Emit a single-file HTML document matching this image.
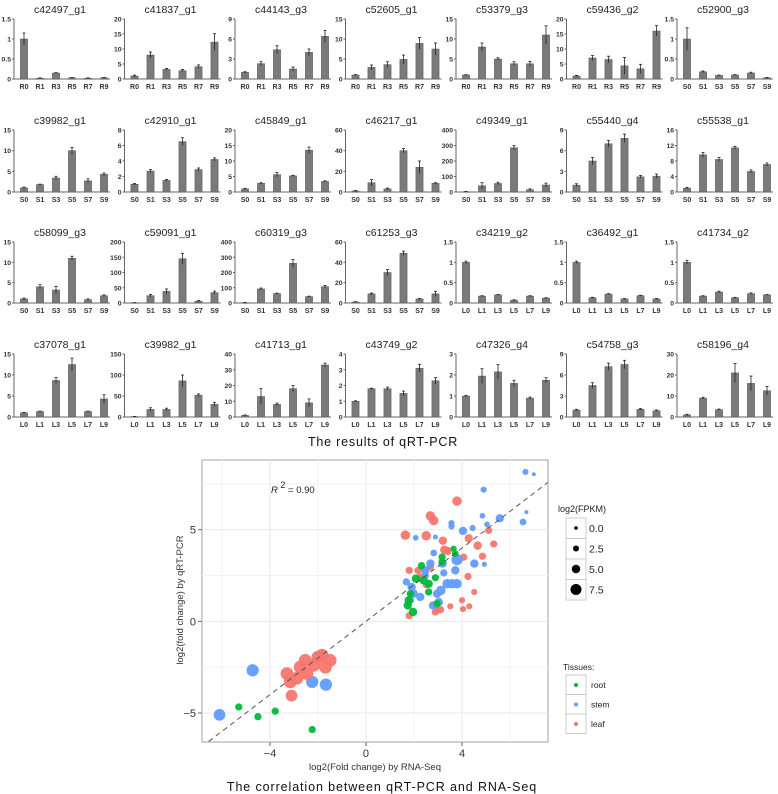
<!DOCTYPE html>
<html><head><meta charset="utf-8"><style>
html,body{margin:0;padding:0;background:#fff;}
svg{display:block;font-family:"Liberation Sans",sans-serif;}
</style></head><body>
<svg id="fig" width="778" height="794" viewBox="0 0 778 794" xmlns="http://www.w3.org/2000/svg">
<g id="bars"></g>
<text x="383" y="446" text-anchor="middle" font-size="12.5" letter-spacing="0.8" fill="#111">The results of qRT-PCR</text>
<g id="scatter"></g>
<text x="382" y="791" text-anchor="middle" font-size="12.5" letter-spacing="0.9" fill="#111">The  correlation between qRT-PCR and RNA-Seq</text>
</svg>
<script>
const NS='http://www.w3.org/2000/svg';
function mk(tag,attrs,parent,txt){const e=document.createElementNS(NS,tag);for(const k in attrs)e.setAttribute(k,attrs[k]);if(txt!==undefined)e.textContent=txt;parent.appendChild(e);return e;}

// ---------- bar chart data ----------
const geneNames=[
 ['c42497_g1','c41837_g1','c44143_g3','c52605_g1','c53379_g3','c59436_g2','c52900_g3'],
 ['c39982_g1','c42910_g1','c45849_g1','c46217_g1','c49349_g1','c55440_g4','c55538_g1'],
 ['c58099_g3','c59091_g1','c60319_g3','c61253_g3','c34219_g2','c36492_g1','c41734_g2'],
 ['c37078_g1','c39982_g1','c41713_g1','c43749_g2','c47326_g4','c54758_g3','c58196_g4']];
const axisMax=[[1.5,20,9,15,15,20,1.5],[15,8,20,60,400,9,16],[15,200,400,60,1.5,1.5,1.5],[15,150,40,4,3,9,30]];
const axisStep=[[0.5,5,3,5,5,5,0.5],[5,2,5,20,100,3,4],[5,50,100,20,0.5,0.5,0.5],[5,50,10,1,1,3,10]];
const catPrefix=[['R','R','R','R','R','R','S'],['S','S','S','S','S','S','S'],['S','S','S','S','L','L','L'],['L','L','L','L','L','L','L']];
const catStages=['0','1','3','5','7','9'];
const barValues=[
 [[1,0.02,0.15,0.03,0.02,0.03],[1,8,3.2,2.8,4.1,12.3],[1,2.3,4.4,1.5,4.0,6.4],[1,2.9,3.6,4.9,8.9,7.5],[1,8,5,3.8,3.8,11],[1,7,6.5,4.4,3.4,16],[1,0.18,0.09,0.1,0.15,0.03]],
 [[1,1.8,3.4,10,2.7,4.3],[1,2.7,1.5,6.5,2.9,4.2],[1,2.8,5.6,5.2,13.5,3.4],[1,9,3,40,24,8.5],[2,40,55,285,15,45],[1,4.5,7,7.8,2.2,2.3],[1,9.6,8.4,11.4,5.3,7.1]],
 [[1,4,3.2,11,0.8,1.8],[1,24,38,145,6,34],[2,92,62,260,42,107],[1,9,30,49,4,9],[1,0.17,0.2,0.07,0.17,0.12],[1,0.13,0.22,0.1,0.18,0.1],[1,0.17,0.27,0.13,0.23,0.2]],
 [[1,1.3,8.7,12.5,1.3,4.3],[1,18,18,86,52,30],[1,13,8,18,9,33],[1,1.8,1.8,1.5,3.1,2.3],[1,1.95,2.15,1.6,0.9,1.75],[1,4.5,7.2,7.5,1.1,0.9],[1,9,3.5,21,16,12.5]]];
const barErrors=[
 [[0.15,0.01,0.01,0.01,0.01,0.01],[0.3,1,0.3,0.4,0.6,2.8],[0.1,0.3,0.6,0.3,0.5,0.9],[0.1,0.6,0.7,1.1,1.5,1.5],[0.1,1,0.3,0.5,0.6,2.3],[0.2,0.8,1.1,2.8,1.5,1.8],[0.28,0.02,0.01,0.01,0.02,0.01]],
 [[0.2,0.1,0.4,0.8,0.5,0.3],[0.1,0.2,0.1,0.5,0.2,0.2],[0.2,0.2,0.7,0.2,1,0.2],[0.5,3,0.8,2,6,0.5],[2,20,8,15,5,12],[0.2,0.5,0.5,0.6,0.2,0.3],[0.2,0.6,0.5,0.4,0.4,0.4]],
 [[0.2,0.5,0.9,0.5,0.2,0.2],[0.5,4,8,18,2,5],[2,6,3,25,3,8],[0.3,0.8,3,2,0.5,2.5],[0.03,0.01,0.01,0.01,0.01,0.01],[0.03,0.01,0.01,0.01,0.01,0.01],[0.05,0.01,0.02,0.01,0.02,0.01]],
 [[0.1,0.1,0.7,1.5,0.1,1.0],[0.5,4,3,14,3,5],[0.3,5,0.8,2,2.5,1.2],[0.03,0.03,0.1,0.15,0.25,0.2],[0.03,0.35,0.35,0.15,0.05,0.12],[0.1,0.4,0.5,0.6,0.1,0.1],[0.3,0.4,0.3,4.5,3.5,2]]];

const rowTop=[19,130,242,354], rowZero=[79,192,303,417];
const bars=document.getElementById('bars');
function fmt(v){return (Math.round(v*10)/10).toString();}
for(let r=0;r<4;r++){for(let c=0;c<7;c++){
  const g=mk('g',{},bars);
  
  
  const ax=14+c*110.5, top=rowTop[r], zero=rowZero[r], mx=axisMax[r][c];
  const yS=v=>zero-(v/mx)*(zero-top);
  const xS=i=>ax+10+i*16;
  const t=mk('text',{x:ax+46,y:top-6,'text-anchor':'middle','font-size':'10.5',fill:'#222'},g,geneNames[r][c]);
  
  
  mk('line',{x1:ax,y1:top,x2:ax,y2:zero,stroke:'#666','stroke-width':1},g);
  mk('line',{x1:ax,y1:zero,x2:ax+96,y2:zero,stroke:'#666','stroke-width':1},g);
  const st=axisStep[r][c];
  for(let v=0;v<=mx+1e-9;v+=st){
    const y=yS(v);
    mk('line',{x1:ax-2,y1:y,x2:ax,y2:y,stroke:'#666'},g);
    const tl=mk('text',{x:ax-3,y:y+2.5,'text-anchor':'end','font-size':'6.8','font-weight':'bold',fill:'#333'},g,fmt(v));
    
    
  }
  barValues[r][c].forEach((v,i)=>{
    const x=xS(i), y=yS(v), e=barErrors[r][c][i];
    const b=mk('rect',{x:x-3.6,y:y,width:7.2,height:Math.max(zero-y,0.6),fill:'#7a7a7a',stroke:'#555','stroke-width':0.5},g);
    
    
    const y1=yS(v+e), y2=yS(Math.max(v-e,0));
    mk('line',{x1:x,y1:y1,x2:x,y2:y2,stroke:'#222','stroke-width':0.8},g);
    mk('line',{x1:x-1.5,y1:y1,x2:x+1.5,y2:y1,stroke:'#222','stroke-width':0.8},g);
    const cl=mk('text',{x:x,y:zero+10,'text-anchor':'middle','font-size':'7','font-weight':'bold',fill:'#333'},g,catPrefix[r][c]+catStages[i]);
    
    
  });
}}

// ---------- scatter data ----------
const tissueNames=['root','stem','leaf'];
const tissueColors={root:'#00BA38',stem:'#619CFF',leaf:'#F8766D'};
const ptTissue=['stem','stem','root','root','root','root','stem','stem']
 .concat(Array(12).fill('leaf'),Array(29).fill('leaf'),Array(36).fill('stem'),Array(15).fill('root'));
const ptRnaSeq=[-4.72,-6.1,-5.3,-4.5,-3.78,-2.24,-2.24,-1.67,
 -3.29,-3.15,-3.1,-2.53,-2.46,-1.83,-1.49,-2.74,-2.18,-1.69,-2.88,-2.0,
 3.79,2.68,2.82,1.64,2.51,3.2,3.26,3.4,4.28,4.65,5.32,5.11,4.85,4.07,4.25,4.51,1.8,2.17,2.68,2.51,2.96,3.1,3.51,4.0,4.04,4.3,1.8,2.26,2.89,
 4.9,6.64,6.99,6.68,6.54,5.57,4.85,5.04,4.44,4.04,3.56,3.56,2.07,2.89,2.82,3.79,3.72,4.51,4.93,2.68,3.19,2.47,3.24,1.68,1.9,1.99,2.26,2.96,3.12,3.38,3.58,3.79,2.79,3.03,1.85,2.47,
 3.65,3.72,3.17,2.31,2.08,2.4,2.61,2.61,2.89,1.78,1.74,1.96,2.96,1.85,3.17];
const ptQpcr=[-2.67,-5.1,-4.67,-5.2,-4.9,-5.9,-3.3,-3.45,
 -2.85,-3.3,-4.05,-2.13,-2.85,-1.85,-2.13,-2.5,-2.4,-2.5,-3.1,-1.95,
 6.56,5.75,5.5,4.7,4.67,4.4,3.9,3.84,4.53,4.13,4.22,4.96,3.55,3.5,2.45,1.6,2.78,2.78,2.96,2.0,0.67,0.64,0.82,1.15,0.67,0.82,0.31,2.42,0.51,
 7.18,8.15,8.02,5.96,5.42,5.62,5.76,5.29,5.09,4.93,5.36,5.18,4.56,4.6,3.73,3.36,2.78,3.15,3.11,3.15,3.15,2.78,2.64,2.15,1.87,1.51,1.33,1.51,1.69,2.05,2.05,2.05,0.87,1.05,1.15,2.5,
 3.96,3.69,3.51,3.04,2.33,2.24,2.05,1.6,2.38,1.15,0.87,0.51,0.96,1.51,3.24];
const ptFpkm=[7.5,7,3,3,3,3,7.5,7.5,
 8,8,7,8,8,8,8,8,8,8,8,8,
 5,5,5,5,5,4,4,4,4,4,3,3,3,3,3,2,3,3,3,3,4,3,2,2,2,2,3,3,3,
 2,2,0,0,2.5,4,1.5,1.5,2,4,2,2,1.5,1,2.5,6.5,4,4,1,4,4,4,3,3,4,4,4,4,5,5,5,5,4,4,3,3,
 2,2.5,3,3,4,4,4,3,3,4,4,4,3,3,3];
const xTicks=[-4,0,4], yTicks=[-5,0,5];

const P={l:202,r:548,t:460,b:742}, xMin=-6.83,xMax=7.58,yMin=-6.58,yMax=8.8;
const sx=v=>P.l+(v-xMin)/(xMax-xMin)*(P.r-P.l);
const sy=v=>P.b-(v-yMin)/(yMax-yMin)*(P.b-P.t);
const rad=f=>2+0.55*(f===undefined?3:f);
const sc=document.getElementById('scatter');
mk('rect',{x:P.l,y:P.t,width:P.r-P.l,height:P.b-P.t,fill:'#fff',stroke:'#b0b0b0','stroke-width':1.2},sc);
[-6,-2,2,6].forEach(v=>mk('line',{x1:sx(v),y1:P.t,x2:sx(v),y2:P.b,stroke:'#f3f3f3'},sc));
[-2.5,2.5,7.5].forEach(v=>mk('line',{x1:P.l,y1:sy(v),x2:P.r,y2:sy(v),stroke:'#f3f3f3'},sc));
xTicks.forEach(v=>{mk('line',{x1:sx(v),y1:P.t,x2:sx(v),y2:P.b,stroke:'#e8e8e8'},sc);
  mk('line',{x1:sx(v),y1:P.b,x2:sx(v),y2:P.b+4,stroke:'#666'},sc);
  const t=mk('text',{x:sx(v),y:P.b+15,'text-anchor':'middle','font-size':'11',fill:'#333'},sc,v<0?'\u2212'+(-v):String(v));
  
  });
yTicks.forEach(v=>{mk('line',{x1:P.l,y1:sy(v),x2:P.r,y2:sy(v),stroke:'#e8e8e8'},sc);
  mk('line',{x1:P.l-4,y1:sy(v),x2:P.l,y2:sy(v),stroke:'#666'},sc);
  const t=mk('text',{x:P.l-6,y:sy(v)+4,'text-anchor':'end','font-size':'11',fill:'#333'},sc,v<0?'\u2212'+(-v):String(v));
  
  });
ptRnaSeq.forEach((x,i)=>{
  const c=mk('circle',{cx:sx(x),cy:sy(ptQpcr[i]),r:rad(ptFpkm[i]),fill:tissueColors[ptTissue[i]]||'#619CFF','fill-opacity':0.95},sc);
  
  
});
const fit=mk('line',{x1:sx(-6.55),y1:sy(-6.55),x2:sx(7.58),y2:sy(7.58),stroke:'#555','stroke-width':1,'stroke-dasharray':'5,4'},sc);


const r2=mk('text',{x:271,y:493,'font-size':'9.5',fill:'#222'},sc);


r2.innerHTML='<tspan font-style="italic">R</tspan><tspan dy="-5" font-size="9"> 2</tspan><tspan dy="5"> = 0.90</tspan>';
const xt=mk('text',{x:375,y:770,'text-anchor':'middle','font-size':'9.5',fill:'#333'},sc,'log2(Fold change) by RNA-Seq');


const yt=mk('text',{x:0,y:0,'text-anchor':'middle','font-size':'9.5',fill:'#333',transform:'translate(183,600) rotate(-90)'},sc,'log2(fold change) by qRT-PCR');



// legends
const lg=mk('g',{},sc);


mk('text',{x:558,y:512,'font-size':'9',fill:'#222'},lg,'log2(FPKM)');
const sizeLevels=[0,2.5,5,7.5];
sizeLevels.forEach((f,i)=>{const y=518+i*20.5;
  mk('rect',{x:566,y:y,width:20,height:20.5,fill:'#fff',stroke:'#ccc'},lg);
  mk('circle',{cx:576,cy:y+10,r:rad(f)*0.9,fill:'#000'},lg);
  const t=mk('text',{x:589,y:y+14,'font-size':'10.5',fill:'#222'},lg,f.toFixed(1));
  
  });
const tg=mk('g',{},sc);


mk('text',{x:563,y:670,'font-size':'8.5',fill:'#222'},tg,'Tissues:');
tissueNames.forEach((n,i)=>{const y=675+i*19.5;
  mk('rect',{x:566,y:y,width:20,height:19.5,fill:'#fff',stroke:'#ccc'},tg);
  mk('circle',{cx:576,cy:y+10,r:2,fill:tissueColors[n]},tg);
  const t=mk('text',{x:591,y:y+13,'font-size':'8.5',fill:'#222'},tg,n);
  
  });
</script>
</body></html>
